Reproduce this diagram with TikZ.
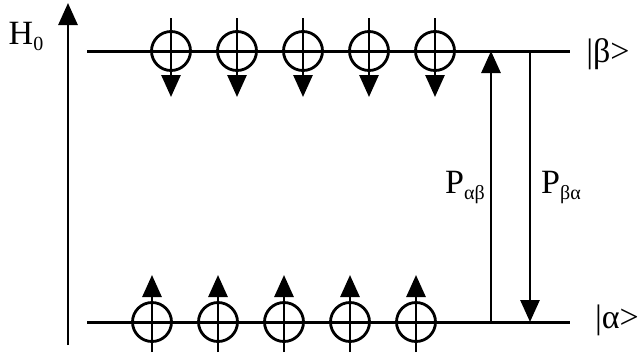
\documentclass[tikz,border=0pt]{standalone}
\usepackage{fontspec}
\setmainfont{Liberation Serif}
\usetikzlibrary{arrows.meta}
\newcommand{\lowsub}[1]{\raisebox{-6pt}{\fontsize{20}{20}\selectfont #1}}
\begin{document}
\begin{tikzpicture}[x=1pt,y=-1pt,
  level/.style={line width=3pt},
  spin/.style={circle, draw, line width=2.8pt, minimum size=39pt, inner sep=0pt},
  spinarrow/.style={line width=2.8pt, -{Triangle[width=19pt,length=22pt]}},
  lbl/.style={font=\fontsize{34}{36}\selectfont, inner sep=0pt}]
\useasboundingbox (0,0) rectangle (643,357);

% energy axis
\coordinate (ax0) at (68,345);
\coordinate (ax1) at (68,3);
\draw[spinarrow] (ax0) -- (ax1);
\node[lbl] (h0) at (26,36) {H\lowsub{0}};

% the two levels
\coordinate (bL) at (87,51);  \coordinate (bR) at (570,51);
\coordinate (aL) at (87,322); \coordinate (aR) at (570,322);
\draw[level] (bL) -- (bR);
\draw[level] (aL) -- (aR);
\node[lbl] (beta)  at (608,54)  {|β>};
\node[lbl] (alpha) at (617,320) {|α>};

% spins in the upper level (pointing down)
\foreach \i/\x in {1/171,2/237,3/303,4/369,5/435}{
  \node[spin] (u\i) at (\x,51) {};
  \coordinate (ut\i) at (\x,18);
  \coordinate (ub\i) at (\x,97);
  \draw[spinarrow] (ut\i) -- (ub\i);
}

% spins in the lower level (pointing up)
\foreach \i/\x in {1/152,2/218,3/284,4/350,5/416}{
  \node[spin] (d\i) at (\x,322) {};
  \coordinate (db\i) at (\x,352);
  \coordinate (dt\i) at (\x,275);
  \draw[spinarrow] (db\i) -- (dt\i);
}

% transition probabilities
\coordinate (pu0) at (491,322); \coordinate (pu1) at (491,51);
\coordinate (pd0) at (530,51);  \coordinate (pd1) at (530,322);
\draw[spinarrow] (pu0) -- (pu1);
\draw[spinarrow] (pd0) -- (pd1);
\node[lbl] (pab) at (465,187) {P\lowsub{αβ}};
\node[lbl] (pba) at (561,187) {P\lowsub{βα}};
\end{tikzpicture}
\end{document}
